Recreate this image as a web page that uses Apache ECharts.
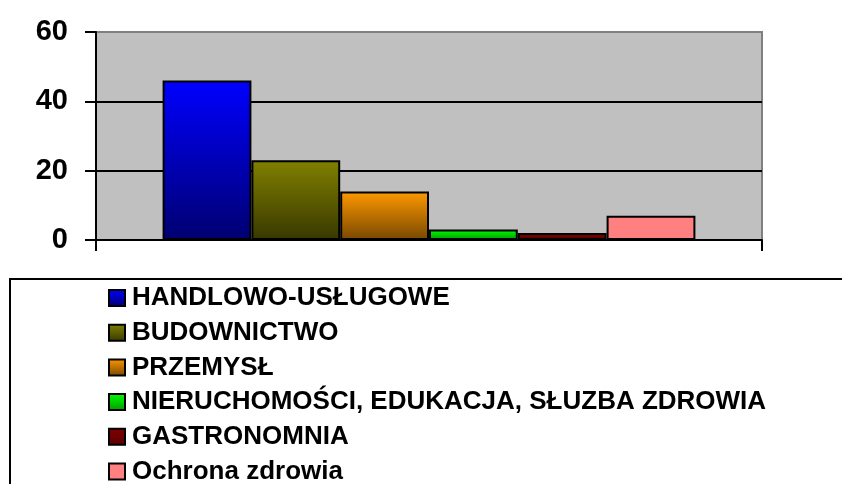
<!DOCTYPE html>
<html>
<head>
<meta charset="utf-8">
<title>Wykres</title>
<script src="https://cdn.jsdelivr.net/npm/echarts@6/dist/echarts.min.js"></script>
<style>
html, body { margin: 0; padding: 0; background: #fff; }
#main { width: 842px; height: 484px; }
</style>
</head>
<body>
<div id="main"></div>
<script>
// dane
var names = ['HANDLOWO-USŁUGOWE', 'BUDOWNICTWO', 'PRZEMYSŁ',
             'NIERUCHOMOŚCI, EDUKACJA, SŁUZBA ZDROWIA', 'GASTRONOMNIA', 'Ochrona zdrowia'];
var values = [46, 23, 14, 3, 2, 7];
var topColors = ['#0000FF', '#808000', '#FF9900', '#00FF00', '#800000', '#FF8080'];
var bottomColors = ['#000070', '#383800', '#784800', '#009A00', '#5A0000', '#FF8080'];
var yTicks = [0, 20, 40, 60];

var font = 'Arial, "Liberation Sans", sans-serif';

var series = [];
for (var i = 0; i < names.length; i++) {
    series.push({
        name: names[i],
        type: 'bar',
        barGap: '0%',
        barCategoryGap: '20%',
        data: [values[i]],
        itemStyle: {
            color: new echarts.graphic.LinearGradient(0, 0, 0, 1, [
                { offset: 0, color: topColors[i] },
                { offset: 1, color: bottomColors[i] }
            ]),
            borderColor: '#000',
            borderWidth: 2
        }
    });
}

var chart = echarts.init(document.getElementById('main'));
chart.setOption({
    animation: false,
    backgroundColor: '#fff',
    grid: {
        left: 96, right: 80, top: 32, bottom: 244,
        show: true,
        backgroundColor: '#C0C0C0',
        borderColor: '#808080',
        borderWidth: 2
    },
    legend: {
        orient: 'vertical',
        left: 103,
        top: 280,
        height: 400,
        icon: 'rect',
        itemWidth: 16,
        itemHeight: 16,
        itemGap: 8.7,
        selectedMode: false,
        textStyle: {
            fontFamily: font,
            fontWeight: 'bold',
            fontSize: 26,
            lineHeight: 26,
            color: '#000',
            padding: [0, 0, 0, 2]
        },
        data: names
    },
    xAxis: {
        type: 'category',
        data: [''],
        axisLine: { lineStyle: { color: '#000', width: 2 } },
        axisTick: { show: true, length: 11, lineStyle: { color: '#000', width: 2 } },
        axisLabel: { show: false },
        splitLine: { show: false }
    },
    yAxis: {
        type: 'value',
        min: yTicks[0],
        max: yTicks[yTicks.length - 1],
        interval: 20,
        axisLine: { show: true, lineStyle: { color: '#000', width: 2 } },
        axisTick: { show: true, length: 11, lineStyle: { color: '#000', width: 2 } },
        axisLabel: {
            margin: 28,
            fontFamily: font,
            fontWeight: 'bold',
            fontSize: 29,
            color: '#000'
        },
        splitLine: {
            show: true,
            lineStyle: { color: ['#000', '#000', '#000', '#808080'], width: 2 }
        }
    },
    graphic: [{
        type: 'rect',
        silent: true,
        shape: { x: 10, y: 279, width: 1000, height: 400 },
        style: { fill: 'none', stroke: '#000', lineWidth: 2 }
    }],
    series: series
});
</script>
</body>
</html>
